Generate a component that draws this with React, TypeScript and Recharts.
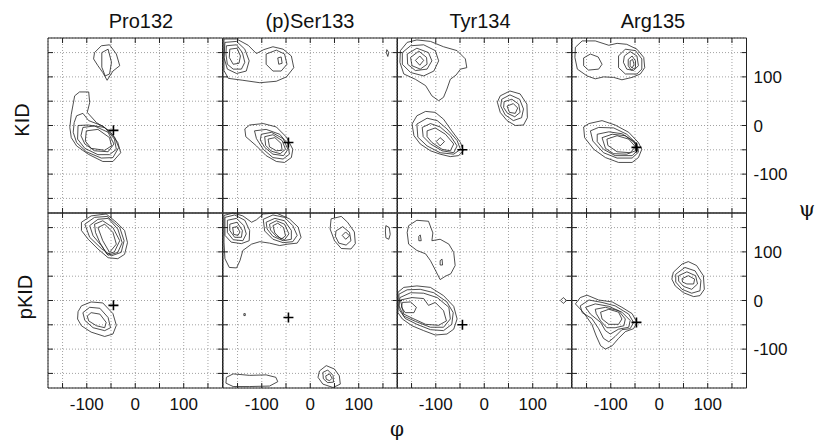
import { ScatterChart, Scatter, XAxis, YAxis, CartesianGrid } from "recharts";

type Pt = [number, number];
type Contour = Pt[];

const residues = ["Pro132", "(p)Ser133", "Tyr134", "Arg135"];
const states = ["KID", "pKID"];
const gridTicks = [-150, -100, -50, 0, 50, 100, 150];
const labelTicks = [-100, 0, 100];

// "+" reference position (phi, psi) for each residue
const refPhi = [-45, -45, -45, -47];
const refPsi = [-10, -35, -50, -45];

// contour lines, [phi, psi]
const kidPro132: Contour[] = [
  [[-84, 150], [-70, 164], [-53, 166], [-39, 147], [-32, 123], [-46, 112], [-58, 93], [-67, 109], [-77, 123], [-86, 137]],
  [[-69, 150], [-56, 157], [-49, 130], [-53, 106], [-62, 102], [-69, 120]],
  [[-125, 61], [-115, 69], [-96, 69], [-94, 47], [-99, 27], [-80, 6], [-53, -11], [-36, -35], [-30, -56], [-46, -74], [-67, -74], [-97, -59], [-121, -42], [-132, -25], [-135, -4], [-132, 23]],
  [[-121, 20], [-108, 25], [-96, 10], [-67, -1], [-43, -23], [-34, -45], [-46, -66], [-70, -67], [-101, -54], [-121, -35], [-128, -14], [-126, 6]],
  [[-118, 0], [-97, 1], [-63, -4], [-43, -28], [-39, -49], [-53, -60], [-77, -60], [-104, -47], [-119, -28]],
  [[-108, -4], [-84, -1], [-56, -14], [-44, -38], [-56, -54], [-84, -52], [-104, -38], [-112, -21]],
  [[-101, -11], [-77, -8], [-53, -25], [-49, -42], [-63, -51], [-91, -47], [-103, -32]],
];

const kidSer133: Contour[] = [
  [[-178, 178], [-152, 178], [-128, 165], [-111, 148], [-96, 156], [-77, 162], [-56, 157], [-39, 143], [-34, 119], [-49, 100], [-70, 91], [-104, 88], [-139, 93], [-169, 97], [-178, 113]],
  [[-176, 171], [-152, 173], [-135, 157], [-126, 133], [-132, 112], [-152, 107], [-171, 116], [-178, 140]],
  [[-173, 164], [-152, 166], [-140, 150], [-135, 130], [-142, 116], [-159, 116], [-171, 126], [-174, 147]],
  [[-166, 157], [-151, 159], [-144, 143], [-147, 128], [-159, 126], [-167, 140]],
  [[-91, 147], [-70, 155], [-53, 147], [-48, 126], [-60, 112], [-77, 112], [-91, 126]],
  [[-67, 139], [-60, 141], [-58, 128], [-65, 126]],
  [[158, 156], [162, 150], [160, 142], [157, 150]],
  [[-135, -7], [-125, 1], [-97, 4], [-70, -3], [-49, -24], [-36, -49], [-39, -66], [-53, -76], [-70, -74], [-91, -62], [-111, -42], [-133, -23]],
  [[-115, -11], [-91, -8], [-63, -18], [-46, -38], [-43, -59], [-56, -69], [-77, -66], [-97, -49], [-111, -27]],
  [[-101, -18], [-80, -14], [-56, -27], [-46, -49], [-55, -62], [-77, -59], [-94, -45], [-103, -30]],
  [[-94, -23], [-77, -19], [-58, -31], [-51, -49], [-62, -58], [-80, -53], [-92, -41]],
  [[-87, -28], [-73, -25], [-60, -37], [-58, -51], [-70, -52], [-84, -44]],
];

const kidTyr134: Contour[] = [
  [[-173, 154], [-159, 171], [-139, 176], [-111, 173], [-84, 162], [-56, 154], [-39, 137], [-36, 119], [-49, 116], [-58, 104], [-70, 95], [-77, 75], [-84, 58], [-94, 51], [-108, 61], [-121, 82], [-142, 95], [-166, 106], [-174, 130]],
  [[-169, 150], [-152, 164], [-125, 166], [-101, 154], [-94, 133], [-104, 112], [-125, 102], [-152, 109], [-169, 126]],
  [[-159, 147], [-139, 159], [-115, 150], [-108, 133], [-118, 116], [-142, 113], [-158, 126]],
  [[-152, 140], [-135, 153], [-119, 140], [-118, 126], [-132, 116], [-149, 123]],
  [[-142, 134], [-133, 143], [-125, 134], [-133, 124]],
  [[33, 61], [53, 71], [74, 65], [88, 44], [89, 16], [81, 1], [64, 0], [47, 10], [33, 27], [27, 48]],
  [[36, 54], [53, 63], [73, 54], [81, 34], [77, 16], [60, 10], [43, 22], [34, 40]],
  [[41, 49], [57, 54], [71, 44], [74, 27], [63, 18], [48, 25], [40, 37]],
  [[47, 40], [60, 45], [69, 36], [64, 25], [52, 27]],
  [[-139, 20], [-121, 29], [-101, 27], [-84, 13], [-67, -11], [-49, -35], [-43, -52], [-53, -62], [-70, -64], [-91, -59], [-111, -52], [-132, -38], [-145, -21], [-149, 3]],
  [[-139, 3], [-118, 15], [-97, 10], [-77, -7], [-56, -31], [-49, -49], [-63, -59], [-91, -56], [-118, -42], [-137, -24]],
  [[-128, -4], [-111, 4], [-91, -3], [-70, -21], [-56, -42], [-63, -56], [-87, -52], [-111, -38], [-126, -23]],
  [[-118, -11], [-101, -5], [-80, -18], [-63, -38], [-70, -52], [-87, -49], [-108, -35], [-118, -23]],
  [[-99, -33], [-91, -25], [-82, -33], [-91, -42]],
];

const kidArg135: Contour[] = [
  [[-173, 161], [-159, 174], [-132, 174], [-104, 165], [-87, 169], [-67, 167], [-46, 157], [-32, 140], [-30, 119], [-39, 106], [-56, 99], [-77, 94], [-94, 99], [-115, 100], [-132, 96], [-149, 102], [-169, 116], [-174, 140]],
  [[-156, 139], [-142, 147], [-126, 141], [-118, 126], [-125, 116], [-146, 114], [-156, 123]],
  [[-84, 143], [-70, 157], [-49, 154], [-36, 137], [-36, 116], [-46, 106], [-70, 106], [-84, 119]],
  [[-72, 143], [-60, 152], [-46, 143], [-43, 123], [-53, 113], [-67, 116], [-74, 130]],
  [[-64, 136], [-56, 143], [-49, 133], [-49, 119], [-58, 114], [-64, 123]],
  [[-60, 133], [-55, 136], [-52, 126], [-56, 118], [-60, 123]],
  [[-156, -3], [-145, 4], [-118, 10], [-91, 1], [-63, -14], [-43, -35], [-36, -49], [-43, -66], [-56, -76], [-84, -76], [-111, -66], [-135, -49], [-154, -25]],
  [[-142, -11], [-125, -4], [-94, -5], [-67, -18], [-46, -38], [-43, -55], [-56, -67], [-87, -67], [-115, -56], [-137, -32]],
  [[-128, -18], [-104, -13], [-77, -17], [-53, -32], [-44, -51], [-56, -62], [-91, -62], [-115, -49], [-128, -33]],
  [[-118, -25], [-97, -18], [-70, -21], [-49, -37], [-49, -52], [-67, -59], [-94, -58], [-111, -47]],
  [[-108, -28], [-87, -21], [-63, -28], [-49, -44], [-60, -56], [-87, -54], [-106, -41]],
];

const pkidPro132: Contour[] = [
  [[-111, 161], [-91, 174], [-60, 178], [-39, 161], [-22, 144], [-16, 119], [-22, 95], [-36, 86], [-56, 88], [-77, 106], [-97, 126], [-111, 144]],
  [[-104, 157], [-84, 171], [-58, 173], [-32, 150], [-23, 123], [-29, 99], [-49, 92], [-70, 107], [-94, 130]],
  [[-94, 154], [-77, 167], [-56, 169], [-36, 147], [-27, 119], [-36, 99], [-56, 93], [-70, 113], [-87, 133]],
  [[-84, 157], [-67, 164], [-46, 150], [-32, 123], [-43, 100], [-58, 95], [-73, 119], [-82, 140]],
  [[-77, 150], [-63, 157], [-46, 140], [-39, 116], [-53, 99], [-67, 123]],
  [[-118, -23], [-111, -11], [-91, -3], [-67, -5], [-46, -27], [-39, -51], [-46, -69], [-63, -74], [-91, -65], [-111, -52], [-119, -38]],
  [[-108, -25], [-94, -14], [-73, -16], [-56, -35], [-51, -56], [-63, -62], [-87, -56], [-104, -41]],
  [[-99, -32], [-91, -25], [-73, -28], [-60, -45], [-63, -56], [-80, -52], [-96, -42]],
];

const pkidSer133: Contour[] = [
  [[-178, 175], [-159, 180], [-139, 174], [-121, 161], [-111, 166], [-97, 178], [-70, 180], [-43, 168], [-25, 151], [-19, 130], [-27, 118], [-46, 116], [-63, 113], [-84, 118], [-104, 121], [-121, 116], [-139, 103], [-145, 82], [-152, 67], [-167, 68], [-176, 86], [-178, 120]],
  [[-176, 171], [-156, 176], [-135, 165], [-125, 144], [-126, 123], [-142, 117], [-163, 120], [-176, 134]],
  [[-171, 165], [-152, 169], [-137, 154], [-132, 137], [-139, 123], [-159, 125], [-171, 140]],
  [[-166, 157], [-151, 161], [-140, 144], [-142, 130], [-156, 130], [-166, 144]],
  [[-160, 150], [-151, 152], [-145, 141], [-149, 134], [-158, 136]],
  [[-97, 167], [-77, 176], [-53, 171], [-36, 154], [-27, 134], [-36, 121], [-56, 119], [-77, 126], [-94, 143]],
  [[-91, 161], [-73, 169], [-53, 164], [-39, 144], [-39, 126], [-56, 123], [-77, 132], [-89, 147]],
  [[-84, 157], [-70, 164], [-53, 157], [-44, 137], [-53, 125], [-70, 132], [-82, 145]],
  [[-77, 154], [-67, 159], [-55, 150], [-51, 133], [-60, 126], [-73, 139]],
  [[43, 168], [64, 173], [77, 161], [91, 141], [93, 117], [84, 106], [64, 107], [50, 123], [41, 147]],
  [[53, 143], [67, 152], [81, 140], [84, 123], [74, 114], [59, 118], [52, 132]],
  [[66, 134], [73, 141], [81, 133], [73, 126]],
  [[156, 154], [163, 150], [165, 136], [162, 126], [156, 129], [155, 143]],
  [[-137, -27], [-134, -27], [-134, -31], [-137, -31]],
  [[-173, -158], [-159, -151], [-125, -154], [-91, -153], [-71, -158], [-67, -167], [-84, -176], [-125, -177], [-159, -177], [-174, -170]],
  [[19, -145], [33, -134], [50, -141], [60, -155], [62, -172], [47, -179], [26, -172], [16, -158]],
  [[26, -148], [36, -143], [47, -154], [48, -168], [36, -169], [27, -161]],
  [[32, -155], [40, -151], [45, -160], [40, -165], [33, -162]],
];

const pkidTyr134: Contour[] = [
  [[-156, 154], [-139, 165], [-115, 163], [-106, 139], [-108, 123], [-91, 126], [-73, 116], [-63, 99], [-60, 72], [-69, 55], [-80, 50], [-91, 43], [-97, 55], [-111, 82], [-121, 96], [-139, 103], [-156, 116], [-159, 140]],
  [[-135, 132], [-132, 135], [-130, 123], [-135, 123]],
  [[-91, 82], [-87, 85], [-86, 73], [-91, 73]],
  [[-178, 17], [-166, 27], [-139, 30], [-111, 27], [-84, 10], [-63, -12], [-56, -38], [-63, -59], [-77, -69], [-101, -71], [-125, -62], [-149, -52], [-169, -38], [-178, -25]],
  [[-176, 13], [-159, 22], [-132, 23], [-104, 16], [-77, -3], [-64, -25], [-67, -49], [-84, -62], [-111, -60], [-139, -49], [-163, -37], [-176, -18]],
  [[-174, 6], [-152, 16], [-125, 15], [-97, 6], [-73, -14], [-70, -38], [-84, -55], [-111, -55], [-142, -43], [-166, -32], [-176, -11]],
  [[-173, 1], [-149, 6], [-125, 4], [-115, -10], [-101, -4], [-84, -21], [-78, -42], [-94, -51], [-121, -49], [-145, -38], [-166, -28]],
  [[-169, -4], [-152, -3], [-140, -14], [-145, -25], [-163, -25], [-171, -14]],
  [[157, 0], [163, 6], [170, 0], [163, -6]],
];

const pkidArg135: Contour[] = [
  [[29, 58], [47, 75], [60, 80], [77, 72], [91, 51], [93, 23], [84, 10], [71, 8], [50, 16], [33, 30], [26, 44]],
  [[34, 54], [53, 68], [74, 61], [86, 41], [84, 20], [67, 15], [47, 23], [34, 38]],
  [[40, 51], [57, 59], [75, 51], [79, 34], [67, 23], [50, 29], [40, 40]],
  [[47, 45], [60, 51], [73, 44], [71, 34], [57, 34], [48, 38]],
  [[-173, -7], [-163, 6], [-149, 11], [-125, 1], [-97, -3], [-77, -14], [-56, -27], [-46, -45], [-53, -58], [-70, -64], [-84, -78], [-97, -93], [-111, -100], [-121, -93], [-130, -73], [-139, -49], [-156, -25]],
  [[-163, -11], [-145, 1], [-118, -4], [-91, -11], [-63, -28], [-53, -45], [-60, -58], [-77, -60], [-91, -74], [-104, -85], [-115, -78], [-125, -58], [-139, -37], [-159, -25]],
  [[-152, -14], [-132, -7], [-104, -12], [-77, -24], [-60, -41], [-63, -55], [-84, -59], [-101, -69], [-111, -62], [-121, -45], [-142, -28]],
  [[-132, -18], [-111, -14], [-84, -21], [-70, -38], [-73, -52], [-91, -56], [-108, -56], [-121, -42], [-130, -27]],
  [[-121, -24], [-104, -18], [-84, -24], [-77, -38], [-84, -49], [-104, -49], [-118, -38]],
];

const panelContours: Contour[][][] = [
  [kidPro132, kidSer133, kidTyr134, kidArg135],
  [pkidPro132, pkidSer133, pkidTyr134, pkidArg135],
];

const PW = 174.5;
const PH = 175;
const LEFT = 48;
const TOP = 38;
const PAD = 2;
const INK = "#222";

const closed = (c: Contour) => [...c, c[0]].map(([x, y]) => ({ x, y }));

const NoDot = () => <g />;
// tick labels hidden but tick marks kept
const HiddenTick = () => <g />;

const PlusMark = (props: any) => {
  const { cx, cy } = props;
  return (
    <path
      d={`M${cx - 5},${cy}h10M${cx},${cy - 5}v10`}
      stroke="#000"
      strokeWidth={1.6}
      fill="none"
    />
  );
};

function Panel({ row, col }: { row: number; col: number }) {
  const contours = panelContours[row][col];
  const bottom = row === 1;
  const right = col === 3;
  const width = PW + 2 * PAD + (right ? 44 : 0);
  const height = PH + 2 * PAD + (bottom ? 30 : 0);
  const axisLine = { stroke: INK, strokeWidth: 1 };
  const tickLine = { stroke: INK, strokeWidth: 1 };
  const labelStyle = { fontSize: 17, fill: "#111" };
  const ref = [{ x: refPhi[col], y: refPsi[col] }];

  return (
    <div
      style={{
        position: "absolute",
        left: LEFT + col * PW - PAD,
        top: TOP + row * PH - PAD,
      }}
    >
      <ScatterChart
        width={width}
        height={height}
        margin={{ top: PAD, right: PAD, bottom: PAD, left: PAD }}
      >
        <CartesianGrid stroke="#8a8a8a" strokeWidth={0.8} strokeDasharray="1 2" />
        <XAxis
          xAxisId={0}
          type="number"
          dataKey="x"
          domain={[-180, 180]}
          ticks={gridTicks}
          interval={0}
          orientation="bottom"
          mirror
          tick={HiddenTick}
          tickSize={5}
          axisLine={axisLine}
          tickLine={tickLine}
        />
        <XAxis
          xAxisId="top"
          type="number"
          dataKey="x"
          domain={[-180, 180]}
          ticks={gridTicks}
          interval={0}
          orientation="top"
          mirror
          tick={HiddenTick}
          tickSize={5}
          axisLine={axisLine}
          tickLine={tickLine}
        />
        {bottom && (
          <XAxis
            xAxisId="lab"
            type="number"
            dataKey="x"
            domain={[-180, 180]}
            ticks={labelTicks}
            interval={0}
            orientation="bottom"
            height={30}
            axisLine={false}
            tickLine={false}
            tickSize={0}
            tickMargin={10}
            tick={labelStyle}
          />
        )}
        <YAxis
          yAxisId={0}
          type="number"
          dataKey="y"
          domain={[-180, 180]}
          ticks={gridTicks}
          interval={0}
          orientation="left"
          mirror
          tick={HiddenTick}
          tickSize={5}
          axisLine={axisLine}
          tickLine={tickLine}
        />
        <YAxis
          yAxisId="right"
          type="number"
          dataKey="y"
          domain={[-180, 180]}
          ticks={gridTicks}
          interval={0}
          orientation="right"
          mirror
          tick={HiddenTick}
          tickSize={5}
          axisLine={axisLine}
          tickLine={tickLine}
        />
        {right && (
          <YAxis
            yAxisId="lab"
            type="number"
            dataKey="y"
            domain={[-180, 180]}
            ticks={labelTicks}
            interval={0}
            orientation="right"
            width={44}
            axisLine={false}
            tickLine={false}
            tickSize={0}
            tickMargin={7}
            tick={labelStyle}
          />
        )}
        {contours.map((c, i) => (
          <Scatter
            key={i}
            data={closed(c)}
            line={{ stroke: INK, strokeWidth: 0.8 }}
            shape={NoDot}
            isAnimationActive={false}
          />
        ))}
        {/* invisible series so the extra axes get their ticks */}
        <Scatter xAxisId="top" yAxisId="right" data={ref} shape={NoDot} isAnimationActive={false} />
        {bottom && (
          <Scatter xAxisId="lab" yAxisId={0} data={ref} shape={NoDot} isAnimationActive={false} />
        )}
        {right && (
          <Scatter xAxisId={0} yAxisId="lab" data={ref} shape={NoDot} isAnimationActive={false} />
        )}
        <Scatter data={ref} shape={PlusMark} isAnimationActive={false} />
      </ScatterChart>
    </div>
  );
}

const titleCenters = [141, 310, 480, 653];

export default function App() {
  return (
    <div
      style={{
        position: "absolute",
        left: 0,
        top: 0,
        width: 815,
        height: 440,
        background: "#fff",
        fontFamily: "'Liberation Sans', Arial, sans-serif",
        color: "#111",
      }}
    >
      {residues.map((r, i) => (
        <div
          key={r}
          style={{
            position: "absolute",
            top: 11,
            left: titleCenters[i] - 70,
            width: 140,
            textAlign: "center",
            fontSize: 20,
            lineHeight: "20px",
          }}
        >
          {r}
        </div>
      ))}
      {states.map((s, i) => (
        <div
          key={s}
          style={{
            position: "absolute",
            left: (i === 0 ? 22 : 25) - 40,
            top: (i === 0 ? 120 : 297) - 11,
            width: 80,
            height: 22,
            lineHeight: "22px",
            textAlign: "center",
            fontSize: 20,
            transform: "rotate(-90deg)",
          }}
        >
          {s}
        </div>
      ))}
      {[0, 1].map((row) =>
        [0, 1, 2, 3].map((col) => <Panel key={`${row}-${col}`} row={row} col={col} />)
      )}
      <div
        style={{
          position: "absolute",
          left: 797,
          top: 197,
          width: 20,
          textAlign: "center",
          fontSize: 21,
          lineHeight: "24px",
          fontFamily: "'DejaVu Serif', serif",
        }}
      >
        ψ
      </div>
      <div
        style={{
          position: "absolute",
          left: 387,
          top: 417,
          width: 20,
          textAlign: "center",
          fontSize: 20,
          lineHeight: "24px",
          fontFamily: "'DejaVu Serif', serif",
        }}
      >
        φ
      </div>
    </div>
  );
}
